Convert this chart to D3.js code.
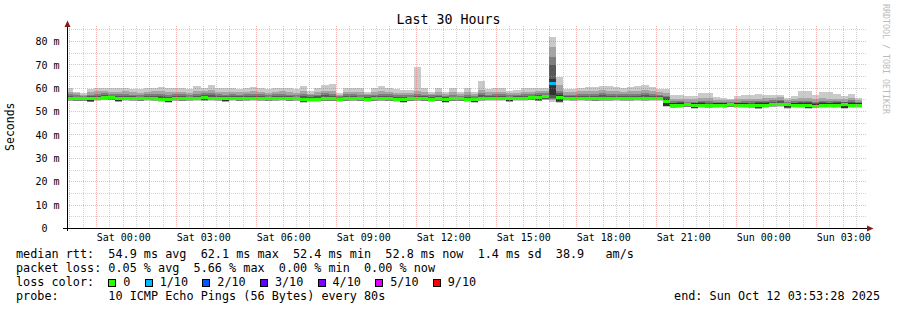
<!DOCTYPE html>
<html><head><meta charset="utf-8">
<script src="https://cdn.jsdelivr.net/npm/d3@7"></script>
<style>
html,body{margin:0;padding:0;background:#fff;}
svg{display:block;}
text{font-family:"DejaVu Sans Mono",monospace;white-space:pre;}
</style></head><body>
<svg id="c" width="897" height="310"></svg>
<script>
// ---- time frame ----
const endTime = new Date(2025, 9, 12, 3, 53, 28);
const firstStepStart = new Date(2025, 9, 10, 21, 50, 0);
const stepMinutes = 16;
const titleText = "Last 30 Hours";
const yLabel = "Seconds";
const yTickValues = [0, 10, 20, 30, 40, 50, 60, 70, 80];

// ---- sorted ping RTTs per 16-minute step (ms) ----
const ping10 = [60.0,58.6,57.8,59.5,60.0,60.3,60.3,60.3,60.3,59.5,59.5,60.3,60.3,60.7,60.2,60.2,60.2,59.6,61.0,60.3,61.6,60.0,60.0,60.3,59.6,60.3,60.7,60.0,59.6,60.3,60.3,59.9,59.6,61.0,58.9,59.9,61.3,62.0,57.8,60.3,60.3,59.9,58.5,59.9,60.8,59.9,59.6,59.2,59.2,68.9,59.9,58.5,59.9,58.5,59.9,58.5,59.9,58.5,63.0,59.6,60.3,59.9,58.9,59.3,60.3,59.9,60.3,60.3,81.8,65.0,59.6,59.6,60.3,60.7,60.7,61.0,61.0,60.7,60.2,60.7,61.0,61.6,60.7,59.6,59.8,57.3,57.3,56.6,56.6,58.0,58.0,56.3,55.9,55.5,56.6,57.3,57.3,57.5,57.3,57.3,57.3,55.9,56.6,58.7,58.7,57.3,58.3,58.3,57.5,56.6,57.5,56.0];
const ping9 = [58.6,57.9,57.2,58.3,58.8,58.9,58.5,58.4,58.9,58.3,58.0,58.6,58.8,58.9,58.2,58.4,58.6,58.1,58.8,58.9,59.1,58.4,58.2,58.6,58.3,58.5,58.9,58.4,58.0,58.6,58.7,58.3,58.0,58.8,57.7,58.3,59.0,59.0,57.1,58.6,58.5,58.2,57.6,58.3,58.8,58.5,58.1,57.9,57.8,58.9,58.4,57.6,58.4,57.6,58.3,57.5,58.3,57.4,59.2,58.2,58.6,58.4,57.8,58.0,58.5,58.4,58.7,58.9,77.6,61.2,58.2,58.3,58.7,58.9,58.8,59.1,59.0,58.9,58.6,58.8,59.0,59.2,58.9,58.2,58.0,55.6,55.5,55.2,55.3,55.8,55.7,55.0,54.9,54.8,55.2,55.5,55.4,55.6,55.8,55.9,56.2,55.0,55.3,55.9,55.8,55.4,55.7,55.6,55.5,55.3,55.9,55.0];
const ping8 = [57.5,57.0,56.7,57.3,57.6,57.8,57.5,57.4,57.6,57.3,57.1,57.5,57.6,57.6,57.2,57.4,57.5,57.2,57.7,57.8,57.8,57.4,57.3,57.5,57.3,57.4,57.7,57.4,57.1,57.5,57.6,57.3,57.1,57.6,56.9,57.3,57.8,57.7,56.6,57.5,57.4,57.2,56.9,57.3,57.6,57.4,57.1,56.9,57.0,57.5,57.3,56.9,57.3,56.8,57.2,56.8,57.2,56.7,57.9,57.3,57.5,57.4,57.0,57.2,57.5,57.5,57.8,58.0,73.3,59.0,57.2,57.3,57.5,57.6,57.5,57.8,57.7,57.6,57.4,57.6,57.7,57.9,57.6,57.3,56.8,54.4,54.5,54.3,54.3,54.6,54.5,54.2,54.1,54.1,54.3,54.4,54.4,54.5,54.7,54.9,55.0,54.3,54.4,54.7,54.6,54.3,54.5,54.5,54.4,54.3,54.9,54.2];
const ping7 = [56.6,56.3,56.1,56.5,56.7,56.9,56.7,56.5,56.7,56.5,56.3,56.7,56.7,56.6,56.3,56.6,56.6,56.4,56.8,57.0,56.9,56.6,56.5,56.7,56.5,56.6,56.8,56.6,56.4,56.7,56.8,56.5,56.4,56.7,56.2,56.5,56.9,56.8,56.0,56.6,56.6,56.4,56.2,56.5,56.7,56.6,56.3,56.1,56.3,56.7,56.5,56.2,56.5,56.1,56.4,56.1,56.4,56.0,56.9,56.6,56.7,56.6,56.3,56.5,56.7,56.8,57.0,57.2,70.0,57.8,56.5,56.5,56.7,56.7,56.6,56.9,56.8,56.8,56.6,56.7,56.8,57.0,56.8,56.6,56.2,53.9,54.0,53.9,53.8,54.0,53.9,53.8,53.8,53.9,53.9,53.9,53.8,54.0,54.1,54.3,54.4,53.9,53.9,54.0,54.0,53.8,54.0,53.9,54.0,54.0,54.3,53.8];
const ping6 = [56.1,56.0,56.0,56.1,56.2,56.6,56.4,56.1,56.2,56.1,56.0,56.3,56.1,55.8,55.7,56.1,56.0,56.1,56.2,56.6,56.3,56.1,56.1,56.2,56.0,56.1,56.2,56.1,56.0,56.1,56.2,56.0,56.1,55.9,55.8,55.9,56.0,56.0,55.9,56.0,56.1,56.0,55.9,56.0,56.1,56.0,55.9,55.7,56.0,56.1,56.0,55.9,56.0,55.8,56.0,56.0,55.9,55.8,56.1,56.2,56.3,56.2,56.1,56.2,56.3,56.4,56.7,56.8,64.0,57.0,56.2,56.1,56.2,56.1,56.0,56.1,56.1,56.2,56.1,56.1,56.2,56.1,56.2,56.3,55.5,53.5,53.6,53.6,53.5,53.5,53.4,53.5,53.6,53.6,53.5,53.5,53.4,53.5,53.6,53.8,53.9,53.6,53.5,53.5,53.5,53.4,53.6,53.5,53.6,53.6,53.6,53.5];
const rttMedian = [55.6,55.5,55.5,55.6,55.7,56.1,55.9,55.6,55.7,55.6,55.5,55.8,55.6,55.3,55.2,55.6,55.5,55.6,55.7,56.1,55.8,55.6,55.6,55.7,55.5,55.6,55.7,55.6,55.5,55.6,55.7,55.5,55.6,55.4,55.3,55.4,55.5,55.5,55.4,55.5,55.6,55.5,55.4,55.5,55.6,55.5,55.4,55.2,55.5,55.6,55.5,55.4,55.5,55.3,55.5,55.5,55.4,55.3,55.6,55.7,55.8,55.7,55.6,55.7,55.8,55.9,56.2,56.3,62.1,56.2,55.7,55.6,55.7,55.6,55.5,55.6,55.6,55.7,55.6,55.6,55.7,55.6,55.7,55.8,54.2,52.6,52.8,52.9,52.8,52.7,52.6,52.7,52.8,52.9,52.8,52.7,52.6,52.7,52.8,53.0,53.1,52.9,52.8,52.7,52.7,52.4,52.8,52.7,52.8,52.9,52.8,52.8];
const ping5 = [55.1,55.0,55.0,54.5,55.2,55.5,55.4,54.6,55.2,55.1,55.0,55.3,55.1,54.8,54.3,55.1,55.0,55.1,55.2,55.0,55.3,55.1,54.6,55.2,55.0,55.1,55.2,55.1,55.0,55.1,55.2,55.0,55.1,54.4,54.8,54.9,55.0,55.0,54.9,55.0,55.1,55.0,54.9,55.0,55.1,55.0,54.9,54.3,55.0,55.1,55.0,54.9,55.0,54.3,55.0,55.0,54.9,54.3,55.1,55.2,55.3,55.2,54.6,55.2,55.3,55.4,54.9,55.8,57.0,54.5,55.2,55.1,55.2,55.1,55.0,55.1,55.1,55.2,55.1,55.1,55.2,55.1,55.2,55.3,52.6,52.1,52.3,52.4,51.7,52.2,52.1,52.2,52.3,52.4,52.3,52.2,52.1,51.6,52.3,52.5,52.6,51.8,52.3,52.2,51.7,51.9,52.3,52.2,52.3,51.7,52.3,52.3];
const ping4 = [54.9,54.8,54.8,54.4,55.0,55.3,55.2,54.5,55.0,54.9,54.8,55.1,54.9,54.6,54.2,54.9,54.8,54.9,55.0,54.9,55.1,54.9,54.5,55.0,54.8,54.9,55.0,54.9,54.8,54.9,55.0,54.8,54.9,54.3,54.6,54.7,54.8,54.8,54.7,54.8,54.9,54.8,54.7,54.8,54.9,54.8,54.7,54.2,54.8,54.9,54.8,54.7,54.8,54.2,54.8,54.8,54.7,54.2,54.9,55.0,55.1,55.0,54.5,55.0,55.1,55.2,54.8,55.5,56.0,54.3,55.0,54.9,55.0,54.9,54.8,54.9,54.9,55.0,54.9,54.9,55.0,54.9,55.0,55.1,52.5,51.9,52.1,52.2,51.6,52.0,51.9,52.0,52.1,52.2,52.1,52.0,51.9,51.5,52.1,52.3,52.4,51.7,52.1,52.0,51.6,51.8,52.1,52.0,52.1,51.6,52.1,52.1];
const ping3 = [54.8,54.7,54.7,54.3,54.9,55.2,55.1,54.4,54.9,54.8,54.7,55.0,54.8,54.5,54.1,54.8,54.7,54.8,54.9,54.8,55.0,54.8,54.4,54.9,54.7,54.8,54.9,54.8,54.7,54.8,54.9,54.7,54.8,54.2,54.5,54.6,54.7,54.7,54.6,54.7,54.8,54.7,54.6,54.7,54.8,54.7,54.6,54.1,54.7,54.8,54.7,54.6,54.7,54.1,54.7,54.7,54.6,54.1,54.8,54.9,55.0,54.9,54.4,54.9,55.0,55.1,54.7,55.3,55.5,54.2,54.9,54.8,54.9,54.8,54.7,54.8,54.8,54.9,54.8,54.8,54.9,54.8,54.9,55.0,52.4,51.8,52.0,52.1,51.5,51.9,51.8,51.9,52.0,52.1,52.0,51.9,51.8,51.4,52.0,52.2,52.3,51.6,52.0,51.9,51.5,51.7,52.0,51.9,52.0,51.5,52.0,52.0];
const ping2 = [54.7,54.6,54.6,54.2,54.8,55.1,55.0,54.3,54.8,54.7,54.6,54.9,54.7,54.4,54.0,54.7,54.6,54.7,54.8,54.7,54.9,54.7,54.3,54.8,54.6,54.7,54.8,54.7,54.6,54.7,54.8,54.6,54.7,54.1,54.4,54.5,54.6,54.6,54.5,54.6,54.7,54.6,54.5,54.6,54.7,54.6,54.5,54.0,54.6,54.7,54.6,54.5,54.6,54.0,54.6,54.6,54.5,54.0,54.7,54.8,54.9,54.8,54.3,54.8,54.9,55.0,54.6,55.1,55.0,54.1,54.8,54.7,54.8,54.7,54.6,54.7,54.7,54.8,54.7,54.7,54.8,54.7,54.8,54.9,52.3,51.7,51.9,52.0,51.4,51.8,51.7,51.8,51.9,52.0,51.9,51.8,51.7,51.3,51.9,52.1,52.2,51.5,51.9,51.8,51.4,51.6,51.9,51.8,51.9,51.4,51.9,51.9];
const ping1 = [54.5,54.4,54.4,54.0,54.6,54.9,54.8,54.1,54.6,54.5,54.4,54.7,54.5,54.2,53.8,54.5,54.4,54.5,54.6,54.5,54.7,54.5,54.1,54.6,54.4,54.5,54.6,54.5,54.4,54.5,54.6,54.4,54.5,53.9,54.2,54.3,54.4,54.4,54.3,54.4,54.5,54.4,54.3,54.4,54.5,54.4,54.3,53.8,54.4,54.5,54.4,54.3,54.4,53.8,54.4,54.4,54.3,53.8,54.5,54.6,54.7,54.6,54.1,54.6,54.7,54.8,54.4,54.9,54.0,53.9,54.6,54.5,54.6,54.5,54.4,54.5,54.5,54.6,54.5,54.5,54.6,54.5,54.6,54.7,52.1,51.5,51.7,51.8,51.2,51.6,51.5,51.6,51.7,51.8,51.7,51.6,51.5,51.1,51.7,51.9,52.0,51.3,51.7,51.6,51.2,51.4,51.7,51.6,51.7,51.2,51.7,51.7];
// lost pings (out of 10) per step
const lossCount = [0,0,0,0,0,0,0,0,0,0, 0,0,0,0,0,0,0,0,0,0, 0,0,0,0,0,0,0,0,0,0, 0,0,0,0,0,0,0,0,0,0, 0,0,0,0,0,0,0,0,0,0, 0,0,0,0,0,0,0,0,0,0, 0,0,0,0,0,0,0,0,1,0, 0,0,0,0,0,0,0,0,0,0, 0,0,0,0,0,0,0,0,0,0, 0,0,0,0,0,0,0,0,0,0, 0,0,0,0,0,0,0,0,0,0, 0,0];

// ---- legend ----
const lossLabels = ["0", "1/10", "2/10", "3/10", "4/10", "5/10", "9/10"];
const lossThresholds = [0, 1, 2, 3, 4, 5, 9];
const lossColors = ["#26ff00", "#00b8ff", "#0059ff", "#5e00ff", "#7e00ff", "#dd00ff", "#ff0000"];
const smokeColors = ["#cacaca", "#a4a4a4", "#7e7e7e", "#585858", "#323232"];
const statLines = [
  "median rtt:  54.9 ms avg  62.1 ms max  52.4 ms min  52.8 ms now  1.4 ms sd  38.9   am/s",
  "packet loss: 0.05 % avg  5.66 % max  0.00 % min  0.00 % now"
];
const lossColorTitle = "loss color:";
const probeLine = "probe:       10 ICMP Echo Pings (56 Bytes) every 80s";
const endLine = "end: Sun Oct 12 03:53:28 2025";
const watermark = "RRDTOOL / TOBI OETIKER";

// ---- drawing ----
const svg = d3.select("#c");
const X0 = 67, X1 = 867, YTOP = 26, YBASE = 228.5;
const startTime = new Date(endTime.getTime() - 30 * 3600 * 1000);
const x = d3.scaleTime().domain([startTime, endTime]).range([X0, X1]);
const y = d3.scaleLinear().domain([0, 86.63]).range([YBASE, YTOP]);

svg.append("rect").attr("width", 897).attr("height", 310).attr("fill", "#fff");
svg.append("clipPath").attr("id", "plot").append("rect")
  .attr("x", X0).attr("y", YTOP).attr("width", X1 - X0).attr("height", YBASE - YTOP);

const pings = [ping1, ping2, ping3, ping4, ping5, ping6, ping7, ping8, ping9, ping10];
const cols = rttMedian.map((m, i) => ({
  i, m, loss: lossCount[i],
  t0: d3.timeMinute.offset(firstStepStart, i * stepMinutes),
  t1: d3.timeMinute.offset(firstStepStart, (i + 1) * stepMinutes)
}));
const lossColor = n => { let c = lossColors[0]; lossThresholds.forEach((t, k) => { if (n >= t) c = lossColors[k]; }); return c; };

const gData = svg.append("g").attr("clip-path", "url(#plot)").attr("shape-rendering", "crispEdges");
smokeColors.forEach((c, b) => {
  gData.append("g").selectAll("rect").data(cols).join("rect")
    .attr("x", d => x(d.t0)).attr("width", d => x(d.t1) - x(d.t0))
    .attr("y", d => y(pings[9 - b][d.i]))
    .attr("height", d => y(pings[b][d.i]) - y(pings[9 - b][d.i]))
    .attr("fill", c);
});
gData.append("g").selectAll("rect").data(cols).join("rect")
  .attr("x", d => x(d.t0)).attr("width", d => x(d.t1) - x(d.t0))
  .attr("y", d => y(d.m) - 1.5).attr("height", 3)
  .attr("fill", d => lossColor(d.loss));

// grid (drawn over the data like rrdtool)
const gGrid = svg.append("g").attr("shape-rendering", "crispEdges").attr("stroke-dasharray", "1,1");
const minorY = d3.range(5, 86, 5).filter(v => v % 10 !== 0);
const majorY = yTickValues.filter(v => v > 0);
const minorStroke = "rgba(170,170,170,0.5)", majorStroke = "rgba(240,80,80,0.42)";
gGrid.selectAll(".hmin").data(minorY).join("line").attr("class", "hmin")
  .attr("x1", X0).attr("x2", X1).attr("y1", d => y(d)).attr("y2", d => y(d))
  .attr("stroke", minorStroke);
const halfHours = d3.timeMinute.every(30).range(startTime, endTime).filter(d => d.getMinutes() !== 0);
const hours = d3.timeHour.every(1).range(startTime, endTime);
gGrid.selectAll(".vmin").data(halfHours).join("line").attr("class", "vmin")
  .attr("x1", d => x(d)).attr("x2", d => x(d)).attr("y1", YTOP).attr("y2", YBASE)
  .attr("stroke", minorStroke);
gGrid.selectAll(".hmaj").data(majorY).join("line").attr("class", "hmaj")
  .attr("x1", X0).attr("x2", X1).attr("y1", d => y(d)).attr("y2", d => y(d))
  .attr("stroke", majorStroke);
gGrid.selectAll(".vmaj").data(hours).join("line").attr("class", "vmaj")
  .attr("x1", d => x(d)).attr("x2", d => x(d)).attr("y1", YTOP).attr("y2", YBASE)
  .attr("stroke", majorStroke);

// axes lines and arrows
svg.append("line").attr("x1", 63).attr("x2", 869).attr("y1", 228.5).attr("y2", 228.5).attr("stroke", "#000");
svg.append("line").attr("x1", 67.5).attr("x2", 67.5).attr("y1", 231).attr("y2", 24).attr("stroke", "#000");
svg.append("path").attr("d", "M64.5,27 L67.5,20.5 L70.5,27 Z").attr("fill", "#8a1a1a");
svg.append("path").attr("d", "M867,225.5 L873.5,228.5 L867,231.5 Z").attr("fill", "#8a1a1a");

// tick labels
const yAxis = svg.append("g").attr("transform", `translate(${X0},0)`)
  .call(d3.axisLeft(y).tickValues(yTickValues).tickSize(0).tickPadding(7.5)
    .tickFormat(d => d === 0 ? "0" : d + " m"));
yAxis.select(".domain").remove();
yAxis.selectAll("text").attr("font-family", "DejaVu Sans Mono").attr("font-size", 10).attr("fill", "#000")
  .attr("x", d => d === 0 ? -19.5 : -7.5);

const labelTimes = d3.timeHour.every(3).range(startTime, endTime);
const xAxis = svg.append("g").attr("transform", `translate(0,${YBASE})`)
  .call(d3.axisBottom(x).tickValues(labelTimes).tickSize(0).tickPadding(5.5)
    .tickFormat(d3.timeFormat("%a %H:%M")));
xAxis.select(".domain").remove();
xAxis.selectAll("text").attr("font-family", "DejaVu Sans Mono").attr("font-size", 10).attr("fill", "#000");

// title, unit label, watermark
svg.append("text").attr("x", 448.5).attr("y", 24).attr("text-anchor", "middle")
  .attr("font-size", 13.3).attr("fill", "#000").text(titleText);
svg.append("text").attr("transform", "translate(13.5,126.7) rotate(-90)").attr("text-anchor", "middle")
  .attr("font-size", 11.5).attr("fill", "#000").text(yLabel);
svg.append("text").attr("transform", "translate(883,4) rotate(90)").attr("text-anchor", "start")
  .attr("font-size", 8.3).attr("fill", "#bbbbbb").text(watermark);

// legend
const legendFont = 11.8, lx = 16;
statLines.forEach((s, k) => {
  svg.append("text").attr("x", lx).attr("y", 258 + 14 * k).attr("font-size", legendFont).attr("fill", "#000").text(s);
});
const lossRow = svg.append("g");
lossRow.append("text").attr("x", lx).attr("y", 286).attr("font-size", legendFont).attr("fill", "#000").text(lossColorTitle);
const charW = legendFont * 0.6021;
let bx = lx + 13 * charW;
lossLabels.forEach((lab, k) => {
  lossRow.append("rect").attr("x", Math.round(bx) + 0.5).attr("y", 279.5).attr("width", 7).attr("height", 7)
    .attr("fill", lossColors[k]).attr("stroke", "#000").attr("stroke-width", 1).attr("shape-rendering", "crispEdges");
  lossRow.append("text").attr("x", bx + 15).attr("y", 286).attr("font-size", legendFont).attr("fill", "#000").text(lab);
  bx = bx + 15 + lab.length * charW + 14.2;
});
svg.append("text").attr("x", lx).attr("y", 300).attr("font-size", legendFont).attr("fill", "#000").text(probeLine);
svg.append("text").attr("x", 880).attr("y", 300).attr("text-anchor", "end").attr("font-size", legendFont).attr("fill", "#000").text(endLine);
</script>
</body></html>
